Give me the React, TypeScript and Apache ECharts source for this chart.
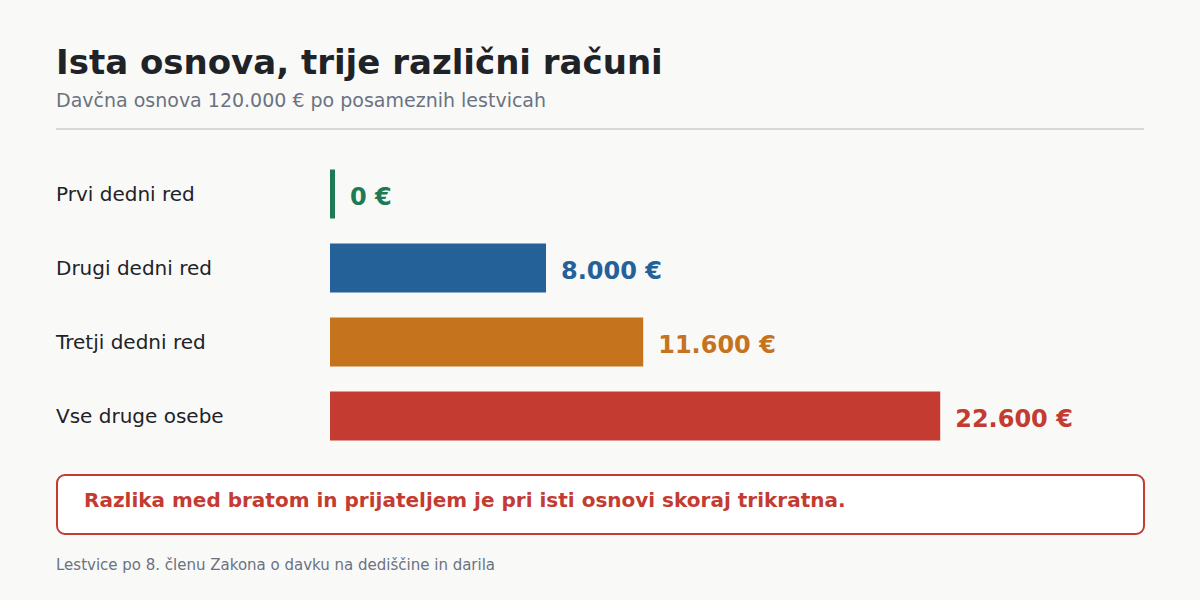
import React, { useEffect, useRef } from "react";
import * as echarts from "echarts";

const categories = ["Prvi dedni red", "Drugi dedni red", "Tretji dedni red", "Vse druge osebe"];
const taxValues = [0, 8000, 11600, 22600];
const barColors = ["#1d7a54", "#256199", "#c5741d", "#c43b31"];
const valueLabels = ["0 €", "8.000 €", "11.600 €", "22.600 €"];

const FONT = "DejaVu Sans";

export default function App() {
  const ref = useRef<HTMLDivElement>(null);
  useEffect(() => {
    if (!ref.current) return;
    const chart = echarts.init(ref.current, null, { renderer: "svg" });
    chart.setOption({
      animation: false,
      backgroundColor: "#f9f9f8",
      textStyle: { fontFamily: FONT },
      title: [
        {
          text: "Ista osnova, trije različni računi",
          left: 56,
          top: 45,
          padding: 0,
          textStyle: { fontFamily: FONT, fontSize: 34, fontWeight: "bold", color: "#1f2328" },
        },
        {
          text: "Davčna osnova 120.000 € po posameznih lestvicah",
          left: 56,
          top: 90,
          padding: 0,
          textStyle: { fontFamily: FONT, fontSize: 19, fontWeight: "normal", color: "#6b7280" },
        },
      ],
      grid: { left: 330, top: 157, width: 810, height: 296, containLabel: false },
      xAxis: {
        type: "value",
        min: 0,
        max: 30000,
        show: false,
      },
      yAxis: {
        type: "category",
        data: categories,
        inverse: true,
        axisLine: { show: false },
        axisTick: { show: false },
        splitLine: { show: false },
        axisLabel: {
          align: "left",
          margin: 274,
          fontFamily: FONT,
          fontSize: 20,
          color: "#1f2328",
        },
      },
      series: [
        {
          type: "bar",
          barWidth: 49,
          barMinHeight: 5,
          data: taxValues.map((v, i) => ({ value: v, itemStyle: { color: barColors[i] } })),
          label: {
            show: true,
            position: "right",
            distance: 15,
            offset: [0, 3],
            fontFamily: FONT,
            fontSize: 24,
            fontWeight: "bold",
            formatter: (p: any) => valueLabels[p.dataIndex],
            color: "inherit",
          },
        },
      ],
      graphic: [
        {
          type: "line",
          shape: { x1: 56, y1: 129, x2: 1144, y2: 129 },
          style: { stroke: "#d8d8d8", lineWidth: 2 },
        },
        {
          type: "rect",
          shape: { x: 57, y: 475, width: 1087, height: 59, r: 8 },
          style: { fill: "#ffffff", stroke: "#c43b31", lineWidth: 2 },
        },
        {
          type: "text",
          x: 84,
          y: 500,
          style: {
            text: "Razlika med bratom in prijateljem je pri isti osnovi skoraj trikratna.",
            font: `bold 20px '${FONT}'`,
            fill: "#c43b31",
            verticalAlign: "middle",
          },
        },
        {
          type: "text",
          x: 56,
          y: 565,
          style: {
            text: "Lestvice po 8. členu Zakona o davku na dediščine in darila",
            font: `15px '${FONT}'`,
            fill: "#6b7280",
            verticalAlign: "middle",
          },
        },
      ],
    });
    return () => chart.dispose();
  }, []);
  return (
    <div
      ref={ref}
      style={{ position: "fixed", left: 0, top: 0, width: 1200, height: 600 }}
    />
  );
}
